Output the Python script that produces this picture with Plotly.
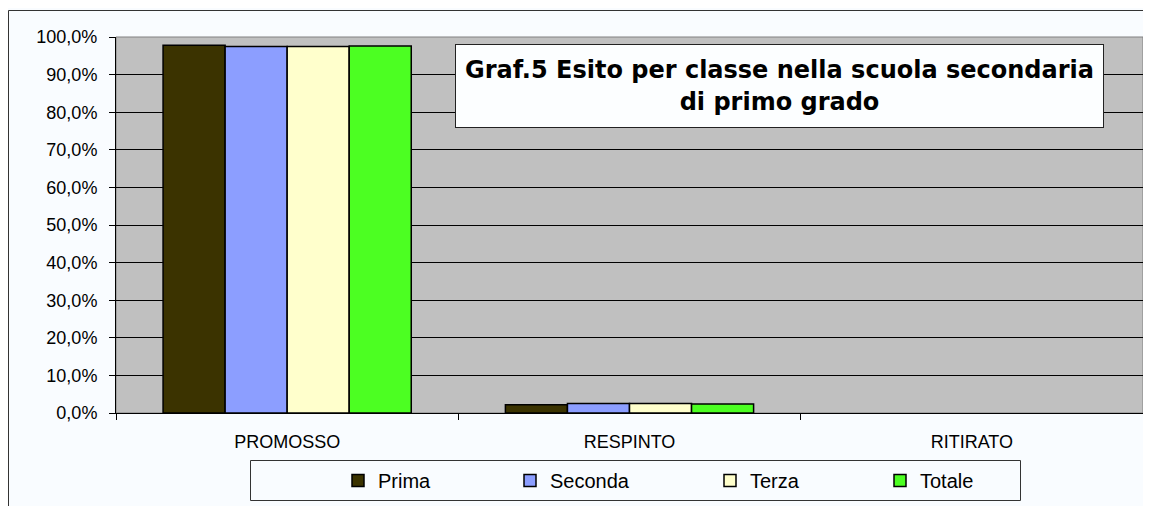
import plotly.graph_objects as go

categories = ["PROMOSSO", "RESPINTO", "RITIRATO"]
series_names = ["Prima", "Seconda", "Terza", "Totale"]
prima = [0.978, 0.022, 0.0]
seconda = [0.975, 0.025, 0.0]
terza = [0.975, 0.025, 0.0]
totale = [0.976, 0.024, 0.0]
series_values = [prima, seconda, terza, totale]
colors = ["#3B3300", "#8C9EFF", "#FFFFCC", "#4CFF22"]
legend_widths = [127, 155, 125, 125]
title_text = "<b>Graf.5 Esito per classe nella scuola secondaria<br>di primo grado</b>"

# page has an 8px body margin; figure coordinates = page coordinates - 8
OFF = 8
W, H = 1143, 498
L, R, T, B = 108, 8, 29, 93
pw = W - L - R
ph = H - T - B


def px_x(page_x):
    return (page_x - OFF - L) / pw


def px_y(page_y):
    return (H - B - (page_y - OFF)) / ph


fig = go.Figure()
for name, vals, col, lw in zip(series_names, series_values, colors, legend_widths):
    fig.add_trace(go.Bar(
        x=categories, y=vals, name=name,
        legendwidth=lw,
        marker=dict(color=col,
                    line=dict(color="#000000",
                              width=[1.5 if v > 0 else 0 for v in vals])),
    ))

fig.update_layout(
    width=W, height=H,
    margin=dict(l=L, r=R, t=T, b=B, autoexpand=False),
    paper_bgcolor="#F9FCFF",
    plot_bgcolor="#C0C0C0",
    separators=",.",
    barmode="group",
    bargap=0.275,
    bargroupgap=0,
    font=dict(family="Liberation Sans, Arial", color="#000000", size=18),
    xaxis=dict(
        type="category",
        showline=True, linecolor="#000000", linewidth=1,
        ticks="outside", tickson="boundaries", ticklen=6, tickcolor="#000000",
        tickfont=dict(size=18),
        ticklabelstandoff=12,
        showgrid=False,
    ),
    yaxis=dict(
        range=[0, 1], dtick=0.1, tick0=0,
        tickformat=".1%",
        showline=True, linecolor="#000000", linewidth=1,
        ticks="outside", ticklen=6, tickcolor="#000000",
        tickfont=dict(size=18),
        ticklabelstandoff=8,
        showgrid=True, gridcolor="#000000", gridwidth=1,
        zeroline=False,
    ),
    legend=dict(
        orientation="h",
        x=px_x(338), xanchor="left",
        y=px_y(461), yanchor="top",
        bgcolor="rgba(0,0,0,0)",
        borderwidth=0,
        font=dict(size=20),
        entrywidthmode="pixels",
        traceorder="normal",
    ),
    showlegend=True,
)

# plot area border (gray top/right)
fig.add_shape(type="rect", xref="paper", yref="paper", x0=0, x1=1, y0=0, y1=1,
              line=dict(color="#808080", width=1), layer="below")
# outer frame lines
fig.add_shape(type="line", xref="paper", yref="paper",
              x0=px_x(8.5), x1=px_x(1160), y0=px_y(10.5), y1=px_y(10.5),
              line=dict(color="#333333", width=1))
fig.add_shape(type="line", xref="paper", yref="paper",
              x0=px_x(8.5), x1=px_x(8.5), y0=px_y(10.5), y1=px_y(520),
              line=dict(color="#333333", width=1))
# legend box
fig.add_shape(type="rect", xref="paper", yref="paper",
              x0=px_x(250.5), x1=px_x(1020.5), y0=px_y(460.5), y1=px_y(500.5),
              line=dict(color="#333333", width=1), fillcolor="rgba(0,0,0,0)")

fig.add_annotation(
    text=title_text, xref="paper", yref="paper",
    x=px_x(779.5), y=px_y(86.2), xanchor="center", yanchor="middle",
    showarrow=False, align="center",
    width=645, height=80,
    bgcolor="#FCFEFF", bordercolor="#222222", borderwidth=1, borderpad=1,
    font=dict(family="DejaVu Sans, Liberation Sans", size=24, color="#000000"),
)

fig.write_html("out.html")
